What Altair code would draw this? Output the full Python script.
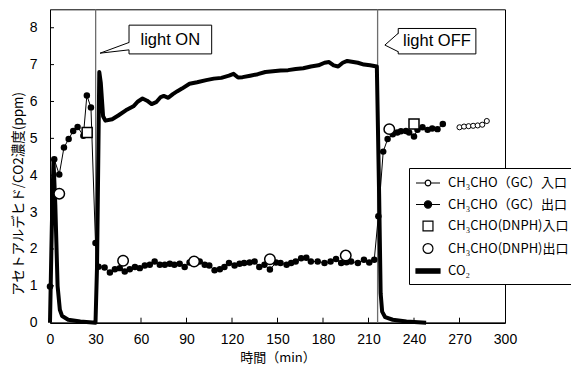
import altair as alt
import pandas as pd

# ---------------- data ----------------
gc_out_t = [0, 2.8, 6.1, 9.2, 12.3, 15.3, 18.2, 22, 24.3, 27, 30,
            32, 36, 39.5, 42.8, 46, 49.3, 52.6, 56, 59.2, 62.5,
            65.8, 69, 72.4, 75.7, 79, 82, 85.5, 88.8, 92, 95.3,
            98.7, 102, 105, 108.5, 112, 115, 118, 121.7, 125, 128,
            131.6, 134.9, 138, 141.4, 145, 149, 152, 156, 159, 162,
            165.6, 169, 172, 176.5, 181, 185, 188.6, 192, 195.5, 198.5,
            203, 207, 210.5, 213.8,
            216.5, 219.7, 222.6, 226, 229, 231.4, 234.7, 236.8, 240, 242.3,
            245.6, 249, 252, 255.5, 259]
gc_out_v = [0.98, 4.43, 4.02, 4.75, 4.98, 5.2, 5.31, 5.07, 6.16, 5.84, 2.16,
            1.52, 1.5, 1.36, 1.45, 1.48, 1.39, 1.45, 1.51, 1.48, 1.55,
            1.57, 1.66, 1.57, 1.57, 1.6, 1.57, 1.6, 1.51, 1.63, 1.62,
            1.66, 1.57, 1.55, 1.42, 1.45, 1.51, 1.62, 1.55, 1.6, 1.62,
            1.63, 1.66, 1.51, 1.57, 1.44, 1.63, 1.62, 1.57, 1.62, 1.66,
            1.75, 1.76, 1.66, 1.66, 1.62, 1.66, 1.73, 1.62, 1.64, 1.66,
            1.62, 1.71, 1.63, 1.71,
            2.89, 4.64, 4.98, 5.11, 5.16, 5.19, 5.2, 5.16, 5.05, 5.23,
            5.3, 5.23, 5.27, 5.25, 5.39]

gc_in_t = [270, 273, 276, 279, 282, 285, 288]
gc_in_v = [5.30, 5.32, 5.33, 5.34, 5.35, 5.37, 5.47]

dnph_in_t = [24.5, 240]
dnph_in_v = [5.16, 5.39]

dnph_out_t = [6.1, 48.2, 95, 145, 195, 223.7]
dnph_out_v = [3.5, 1.68, 1.66, 1.72, 1.82, 5.25]

co2_t = [0, 1.2, 2.3, 3.5, 5, 6.5, 8, 12, 20, 30,
         31, 32.5, 33.5, 35, 36.5, 41, 45, 50, 55, 58,
         61, 64, 67, 70, 73, 75, 78, 81, 84, 87,
         92, 97, 103, 108, 113, 118, 121, 124, 127, 132,
         137, 142, 147, 152, 157, 162, 167, 172, 177, 181,
         184, 187, 190, 193, 196, 199, 203, 207, 211, 215.5,
         217, 218, 219, 221, 226, 235, 248]
co2_v = [0, 2.6, 4.4, 3.2, 1.0, 0.35, 0.18, 0.08, 0.03, 0,
         1.5, 6.8, 6.5, 5.6, 5.48, 5.52, 5.62, 5.76, 5.87, 6.0,
         6.08, 6.02, 5.93, 5.98, 6.12, 6.15, 6.1, 6.2, 6.28, 6.35,
         6.48, 6.52, 6.58, 6.62, 6.64, 6.7, 6.75, 6.65, 6.66, 6.7,
         6.74, 6.8, 6.82, 6.84, 6.85, 6.88, 6.9, 6.95, 6.98, 7.05,
         7.07, 6.98, 6.95, 7.05, 7.1, 7.08, 7.05, 7.0, 6.98, 6.95,
         3.5, 0.8, 0.3, 0.15, 0.08, 0.03, 0.0]

light_t = [30.1, 216.0]

callout_text = ["light ON", "light OFF"]
callout_text_t = [79.3, 255.1]
callout_text_v = [7.68, 7.64]
callout_box_t1 = [52.1, 229.6]
callout_box_t2 = [106.6, 280.8]
callout_box_v1 = [7.29, 7.29]
callout_box_v2 = [8.07, 7.98]
callout_tip_t = [33.0, 220.8]
callout_tip_v = [7.31, 7.53]
callout_base_hi = [7.60, 7.85]
callout_base_lo = [7.40, 7.35]

x_ticks = [0, 30, 60, 90, 120, 150, 180, 210, 240, 270, 300]
y_ticks = [0, 1, 2, 3, 4, 5, 6, 7, 8]

series_names = ["CH₃CHO（GC）入口", "CH₃CHO（GC）出口",
                "CH₃CHO(DNPH)入口", "CH₃CHO(DNPH)出口", "CO₂"]

# ---------------- tables ----------------
gc_out = pd.DataFrame({"t": gc_out_t, "v": gc_out_v})
gc_in = pd.DataFrame({"t": gc_in_t, "v": gc_in_v})
dnph_in = pd.DataFrame({"t": dnph_in_t, "v": dnph_in_v})
dnph_out = pd.DataFrame({"t": dnph_out_t, "v": dnph_out_v})
co2 = pd.DataFrame({"t": co2_t, "v": co2_v})
lights = pd.DataFrame({"t": light_t})
boxes = pd.DataFrame({"t1": callout_box_t1, "t2": callout_box_t2,
                      "v1": callout_box_v1, "v2": callout_box_v2,
                      "label": callout_text, "tt": callout_text_t,
                      "tv": callout_text_v})
pointer = pd.DataFrame({
    "t": callout_tip_t * 2, "v": callout_tip_v * 2,
    "t2": callout_box_t1 * 2, "v2": callout_base_hi + callout_base_lo})
gap = pd.DataFrame({
    "t": callout_tip_t + [a + 0.6 for a in callout_box_t1],
    "lo": callout_tip_v + callout_base_lo,
    "hi": callout_tip_v + callout_base_hi,
    "g": [0, 1, 0, 1]})
xt = pd.DataFrame({"t": x_ticks[1:-1]})
yt = pd.DataFrame({"v": y_ticks[1:]})
legend_df = pd.DataFrame({"s": series_names})

W, H = 455, 313.4
xs = alt.Scale(domain=[0, 300], nice=False, zero=False)
ys = alt.Scale(domain=[0, 8.5], nice=False, zero=False)
LAT = "Liberation Sans"
CJK = "Noto Sans CJK JP"
X_TITLE = "時間（min）"
Y_TITLE = "アセトアルデヒド/CO2濃度(ppm)"

x_axis = alt.Axis(values=x_ticks, title=X_TITLE, grid=False, ticks=False,
                  labelFont=LAT, labelFontSize=14, labelColor="black",
                  labelPadding=10, labelFlush=False,
                  domainColor="black", domainWidth=1.5,
                  titleFont=CJK, titleFontSize=13, titleFontWeight="normal",
                  titleColor="black", titleBaseline="bottom", titleY=42)
y_axis = alt.Axis(values=y_ticks, title=Y_TITLE, grid=False,
                  ticks=False, labelFont=LAT, labelFontSize=14, labelColor="black",
                  labelPadding=13, labelFlush=False,
                  domainColor="black", domainWidth=1,
                  titleFont=CJK, titleFontSize=13.5, titleFontWeight="normal",
                  titleColor="black", titleAngle=270, titleBaseline="bottom",
                  titleX=-25, titleY=184)


def X(f="t"):
    return alt.X(f, type="quantitative", scale=xs, axis=x_axis, title=X_TITLE)


def Y(f="v"):
    return alt.Y(f, type="quantitative", scale=ys, axis=y_axis, title=Y_TITLE)


light_rules = alt.Chart(lights).mark_rule(color="#6e6e6e", strokeWidth=1.3).encode(x=X())

x_tick_rules = alt.Chart(xt).mark_rule(color="black", strokeWidth=1).encode(
    x=X(), y=alt.value(H), y2=alt.value(H - 5))
y_tick_rules = alt.Chart(yt).mark_rule(color="black", strokeWidth=1).encode(
    y=Y(), x=alt.value(0), x2=alt.value(4))

box_rect = alt.Chart(boxes).mark_rect(fill="white", stroke="black", strokeWidth=1).encode(
    x=X("t1"), x2="t2", y=Y("v1"), y2="v2")
gap_area = alt.Chart(gap).mark_area(color="white", opacity=1).encode(
    x=X("t"), y=Y("lo"), y2="hi", detail="g:N")
pointer_rules = alt.Chart(pointer).mark_rule(color="black", strokeWidth=1).encode(
    x=X("t"), y=Y("v"), x2="t2", y2="v2")
box_text = alt.Chart(boxes).mark_text(font=LAT, fontSize=16.5, color="black",
                                      align="center", baseline="middle").encode(
    x=X("tt"), y=Y("tv"), text="label:N")

co2_line = alt.Chart(co2).mark_line(color="black", strokeWidth=4, strokeJoin="round").encode(
    x=X(), y=Y())

gc_out_line = alt.Chart(gc_out).mark_line(color="black", strokeWidth=1).encode(x=X(), y=Y())
gc_out_pts = alt.Chart(gc_out).mark_point(shape="circle", filled=True, color="black",
                                          size=42, opacity=1).encode(x=X(), y=Y())

gc_in_line = alt.Chart(gc_in).mark_line(color="black", strokeWidth=1).encode(x=X(), y=Y())
gc_in_pts = alt.Chart(gc_in).mark_point(shape="circle", filled=False, fill="white",
                                        stroke="black", strokeWidth=1, size=26,
                                        opacity=1).encode(x=X(), y=Y())

dnph_in_pts = alt.Chart(dnph_in).mark_point(shape="square", fill="white", stroke="black",
                                            strokeWidth=1.5, size=100, opacity=1).encode(
    x=X(), y=Y())
dnph_out_pts = alt.Chart(dnph_out).mark_point(shape="circle", fill="white", stroke="black",
                                              strokeWidth=1.5, size=110, opacity=1).encode(
    x=X(), y=Y())

# legend (custom symbols)
legend_shapes = [
    "M-1.5,0H-0.35M0.35,0H1.5M0.35,0A0.35,0.35,0,1,1,-0.35,0A0.35,0.35,0,1,1,0.35,0Z",
    "M-1.5,0H-0.45M0.45,0H1.5M0.45,0A0.45,0.45,0,1,1,-0.45,0A0.45,0.45,0,1,1,0.45,0Z",
    "M-0.62,-0.62H0.62V0.62H-0.62Z",
    "M0.62,0A0.62,0.62,0,1,1,-0.62,0A0.62,0.62,0,1,1,0.62,0Z",
    "M-1.5,-0.27H1.5V0.27H-1.5Z",
]
legend_fills = ["white", "black", "white", "white", "black"]
leg = alt.Legend(title=None, orient="none", legendX=359, legendY=158.7,
                 padding=6, strokeColor="black", fillColor="white",
                 symbolSize=256, symbolOffset=4, labelOffset=11, rowPadding=5.5,
                 labelFont=CJK, labelFontSize=13, labelColor="black",
                 symbolStrokeWidth=1.2, symbolStrokeColor="black",
                 symbolOpacity=1, labelLimit=200)
legend_layer = alt.Chart(legend_df).mark_point(filled=True, opacity=1, strokeWidth=1.2).encode(
    x=alt.value(-300), y=alt.value(-300),
    shape=alt.Shape("s:N", scale=alt.Scale(domain=series_names, range=legend_shapes), legend=leg),
    fill=alt.Fill("s:N", scale=alt.Scale(domain=series_names, range=legend_fills), legend=leg),
    stroke=alt.Stroke("s:N", scale=alt.Scale(domain=series_names, range=["black"] * 5), legend=leg),
)

chart = alt.layer(
    light_rules, x_tick_rules, y_tick_rules,
    box_rect, gap_area, pointer_rules, box_text,
    co2_line, gc_out_line, gc_out_pts, gc_in_line, gc_in_pts,
    dnph_in_pts, dnph_out_pts, legend_layer,
).properties(
    width=W, height=H,
    padding={"left": 42, "top": 1.3, "right": 66, "bottom": 43.3},
    autosize=alt.AutoSizeParams(type="none"),
    background="white",
).configure_view(stroke="black", strokeWidth=1)

chart.save("out.html", embed_options={"renderer": "svg", "actions": False})
